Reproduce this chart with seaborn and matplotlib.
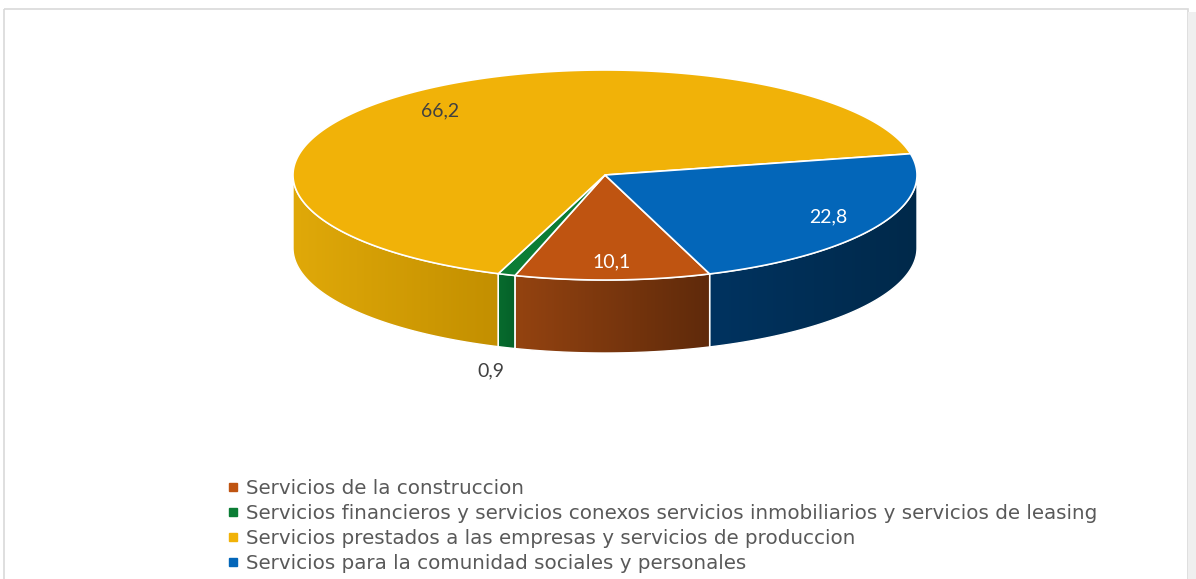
import numpy as np
import matplotlib
matplotlib.use("Agg")
import matplotlib.pyplot as plt
import seaborn as sns
from matplotlib.patches import Polygon, Rectangle
from matplotlib.lines import Line2D
from matplotlib.colors import to_rgb

# ---------------- data ----------------
categories = [
    "Servicios de la construccion",
    "Servicios financieros y servicios conexos servicios inmobiliarios y servicios de leasing",
    "Servicios prestados a las empresas y servicios de produccion",
    "Servicios para la comunidad sociales y personales",
]
values = [10.1, 0.9, 66.2, 22.8]
value_labels = [f"{v:.1f}".replace(".", ",") for v in values]

# ---------------- style ----------------
top_colors = ["#BF5411", "#0B7D35", "#F1B208", "#0366B9"]
wall_left = ["#944310", "#076B2E", "#E0A909", "#003360"]
wall_right = ["#5F2A0B", "#056229", "#C38F00", "#00294A"]
label_colors = ["white", "#404040", "#404040", "white"]
label_r = [0.83, None, 0.81, 0.82]

sns.set_theme(style="white")
plt.rcParams["font.family"] = ["DejaVu Sans"]

fig = plt.figure(figsize=(11.96, 5.79), dpi=100)
ax = fig.add_axes([0, 0, 1, 1])
ax.set_xlim(0, 1196)
ax.set_ylim(579, 0)
ax.axis("off")

# chart frame
ax.add_patch(Rectangle((4, 9), 1184, 575, fill=False, edgecolor="#D9D9D9", lw=1.2, zorder=0))
ax.add_patch(Rectangle((1188, 12), 8, 570, color="#EFEFEF", lw=0, zorder=0))

cx, cy, rx, ry, depth = 605, 175, 312, 105, 73
start = -70.4
total = sum(values)
bounds = [start]
for v in values:
    bounds.append(bounds[-1] - v / total * 360.0)


def ell(th_deg):
    t = np.radians(th_deg)
    return cx + rx * np.cos(t), cy - ry * np.sin(t)


# walls (front half only)
for i, v in enumerate(values):
    a1, a2 = bounds[i], bounds[i + 1]  # a1 > a2
    for k in (-1, 0, 1):
        lo, hi = -180 - 360 * k, -360 * k
        s_hi, s_lo = min(a1, hi), max(a2, lo)
        if s_hi <= s_lo:
            continue
        th = np.linspace(s_hi, s_lo, 120)
        xs, ys = ell(th)
        pts = np.vstack([np.column_stack([xs, ys]),
                         np.column_stack([xs[::-1], ys[::-1] + depth])])
        poly = Polygon(pts, closed=True, facecolor="none", edgecolor="none", zorder=2)
        ax.add_patch(poly)
        c1, c2 = np.array(to_rgb(wall_left[i])), np.array(to_rgb(wall_right[i]))
        grad = np.linspace(0, 1, 256)[None, :, None]
        img = c1 + (c2 - c1) * grad
        im = ax.imshow(img, extent=[xs.min(), xs.max(), ys.max() + depth + 2, ys.min() - 2],
                       aspect="auto", zorder=2, interpolation="bilinear")
        im.set_clip_path(poly)
        ax.add_patch(Polygon(pts, closed=True, facecolor="none", edgecolor="white", lw=1.0, zorder=3))

ax.set_xlim(0, 1196)
ax.set_ylim(579, 0)

# top face
for i, v in enumerate(values):
    a1, a2 = bounds[i], bounds[i + 1]
    th = np.linspace(a1, a2, max(4, int(abs(a1 - a2) * 2)))
    xs, ys = ell(th)
    pts = np.vstack([[cx, cy], np.column_stack([xs, ys])])
    ax.add_patch(Polygon(pts, closed=True, facecolor=top_colors[i], edgecolor="white",
                         lw=1.2, joinstyle="round", zorder=4))

# labels
for i, v in enumerate(values):
    mid = (bounds[i] + bounds[i + 1]) / 2
    t = np.radians(mid)
    if label_r[i] is None:
        x0, y0 = ell(mid)
        lx, ly = x0 - 16, y0 + depth + 23
    else:
        lx = cx + rx * label_r[i] * np.cos(t)
        ly = cy - ry * label_r[i] * np.sin(t)
    ax.text(lx, ly, value_labels[i], ha="center", va="center", fontsize=14,
            color=label_colors[i], family=["Lato", "DejaVu Sans"], zorder=6)

# legend
handles = [Line2D([], [], marker="s", linestyle="", color=c, markersize=5.5) for c in top_colors]
leg = ax.legend(handles, categories, loc="upper left", bbox_to_anchor=(227 / 1196, 1 - 479 / 579),
                frameon=False, handlelength=0.6, handletextpad=0.35, labelspacing=0.3,
                borderaxespad=0, borderpad=0,
                prop={"family": ["DejaVu Sans"], "size": 14.3})
for t in leg.get_texts():
    t.set_color("#595959")

fig.savefig("out.png", dpi=100, facecolor="white")
